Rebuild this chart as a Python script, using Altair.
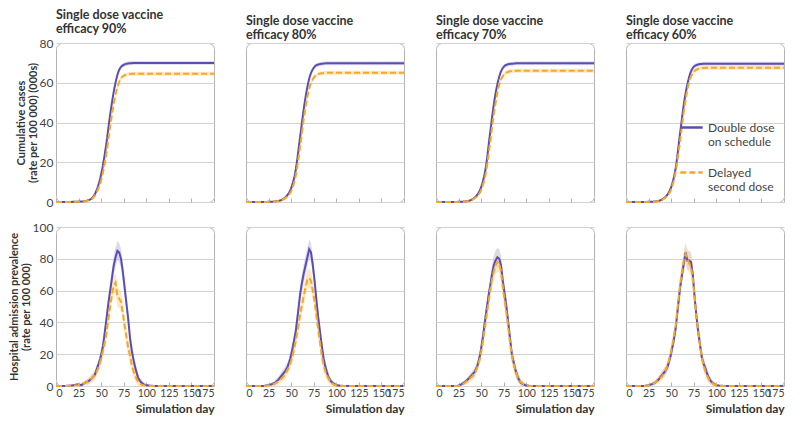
import altair as alt
import pandas as pd

efficacies = ["90%", "80%", "70%", "60%"]
series_names = ["Double dose on schedule", "Delayed second dose"]
x_ticks = [0, 25, 50, 75, 100, 125, 150, 175]

# ---- cumulative cases (000s per 100 000) ----
cum_days = [0, 10, 20, 25, 30, 35, 40, 45, 50, 55, 60, 65, 70, 75, 80, 85, 90, 100, 120, 175]
cum_spread = [0, 0, 0, 0.1, 0.2, 0.3, 0.5, 0.8, 1.0, 1.2, 1.3, 1.3, 1.2, 1.1, 1.0, 1.0, 1.0, 1.0, 1.0, 1.0]
cum_double = {
    "90%": [0, 0, 0.1, 0.2, 0.3, 0.8, 2.0, 6.0, 14, 27, 44, 58, 66.5, 69, 69.7, 69.9, 70, 70, 70, 70],
    "80%": [0, 0, 0, 0.1, 0.2, 0.5, 1.2, 3.0, 7.0, 16, 33, 50, 62, 67.5, 69.2, 69.6, 69.8, 69.8, 69.8, 69.8],
    "70%": [0, 0, 0, 0.1, 0.2, 0.5, 1.3, 3.2, 7.5, 17, 35, 52, 63, 68, 69.3, 69.6, 69.8, 69.8, 69.8, 69.8],
    "60%": [0, 0, 0, 0.1, 0.2, 0.5, 1.3, 3.2, 7.5, 17, 35, 52, 63, 68, 69.2, 69.5, 69.6, 69.6, 69.6, 69.6],
}
cum_delayed = {
    "90%": [0, 0, 0.1, 0.2, 0.3, 0.7, 1.6, 4.8, 11, 22, 38, 52, 60.5, 63.5, 64.3, 64.5, 64.5, 64.5, 64.5, 64.5],
    "80%": [0, 0, 0, 0.1, 0.2, 0.4, 1.0, 2.5, 5.5, 13, 28, 45, 57, 62.5, 64.3, 64.8, 65, 65, 65, 65],
    "70%": [0, 0, 0, 0.1, 0.2, 0.4, 1.1, 2.7, 6.0, 14, 30, 47, 59, 64, 65.5, 65.9, 66, 66, 66, 66],
    "60%": [0, 0, 0, 0.1, 0.2, 0.4, 1.1, 2.8, 6.3, 15, 31, 48.5, 60.5, 65.5, 67, 67.4, 67.5, 67.5, 67.5, 67.5],
}

# ---- hospital admission prevalence (per 100 000) ----
hosp_days = [0, 10, 20, 24, 28, 32, 36, 40, 43, 46, 49, 52, 55, 58, 60, 62, 64, 66, 68, 70,
             72, 74, 76, 78, 80, 82, 84, 86, 88, 91, 94, 97, 100, 104, 110, 120, 175]
hosp_spread = [0, 0, 0.5, 1, 1, 1.5, 2, 2.5, 3, 3, 3.5, 4, 4.5, 5, 5, 5.5, 6, 6, 6, 6,
               6, 6, 5.5, 5.5, 5, 5, 4.5, 4, 3.5, 3, 2, 1.5, 1, 0.5, 0, 0, 0]
hosp_double = {
    "90%": [0, 0, 0.5, 1, 0.5, 2, 3, 5, 7, 12, 17, 25, 38, 52, 60, 68, 76, 81, 85, 84,
            80, 72, 62, 52, 42, 30, 22, 16, 11, 5, 2.5, 1, 0.5, 0.2, 0, 0, 0],
    "80%": [0, 0, 0, 0.5, 1, 2, 4, 7, 9, 12, 17, 25, 34, 48, 58, 65, 71, 76, 81, 86,
            84, 76, 66, 54, 43, 34, 25, 17, 12, 6, 3, 1.5, 0.5, 0.2, 0, 0, 0],
    "70%": [0, 0, 0, 0, 1, 2.5, 4.5, 7, 9, 13, 20, 31, 44, 56, 63, 70, 76, 79, 81, 80,
            76, 66, 58, 50, 40, 30, 20, 15, 10, 5, 2, 1, 0.3, 0, 0, 0, 0],
    "60%": [0, 0, 0, 0.3, 1, 2, 4, 7, 9, 12, 18, 26, 36, 52, 62, 70, 77, 84, 79, 79,
            78, 70, 56, 44, 34, 26, 18, 14, 11, 6, 3, 1.5, 0.5, 0.2, 0, 0, 0],
}
hosp_delayed = {
    "90%": [0, 0, 0.3, 0.5, 1, 2, 3, 5, 7, 10, 15, 22, 30, 42, 50, 58, 63, 65, 56, 55,
            53, 46, 38, 31, 24, 19, 13, 9, 6, 2.5, 1, 0.5, 0.2, 0, 0, 0, 0],
    "80%": [0, 0, 0, 0.3, 0.5, 1.5, 3, 5, 7, 10, 14, 20, 28, 38, 45, 51, 57, 62, 67, 68,
            66, 60, 53, 44, 35, 27, 19, 13, 9, 5, 2.5, 1, 0.5, 0, 0, 0, 0],
    "70%": [0, 0, 0, 0, 0.5, 2, 4, 6, 8, 12, 18, 28, 40, 52, 60, 67, 72, 76, 78, 77,
            72, 62, 54, 46, 37, 27, 19, 14, 9, 5, 2.5, 1.2, 0.5, 0, 0, 0, 0],
    "60%": [0, 0, 0, 0.3, 1, 2, 4, 6, 9, 13, 19, 28, 38, 54, 64, 72, 79, 83, 80, 77,
            75, 67, 56, 43, 34, 25, 18, 13, 9, 5, 2.5, 1.2, 0.5, 0, 0, 0, 0],
}

PURPLE = "#5b4eb2"
ORANGE = "#f7a823"
BAND_PURPLE = "#c7c0ea"
BAND_ORANGE = "#fcd9a0"
FONT = "Lato"
W, H = 158, 159
LABEL_EXPR = "datum.label == 'Double dose on schedule' ? ['Double dose', 'on schedule'] : ['Delayed', 'second dose']"


def make_df(days, spread, double, delayed):
    rows = []
    for name, vals in zip(series_names, [double, delayed]):
        for d, v, s in zip(days, vals, spread):
            rows.append({"day": d, "value": v, "lo": max(v - s, 0), "hi": v + s, "series": name})
    return pd.DataFrame(rows)


def panel(df, i, top):
    first = i == 0
    if top:
        ydom, yvals = [0, 80], [0, 20, 40, 60, 80]
        ytitle = ["Cumulative cases", "(rate per 100 000) (000s)"]
    else:
        ydom, yvals = [0, 100], [0, 20, 40, 60, 80, 100]
        ytitle = ["Hospital admission prevalence", "(rate per 100 000)"]
    if first:
        yaxis = alt.Axis(values=yvals, title=ytitle, domain=False, ticks=False, labelPadding=3,
                         titlePadding=1, titleFontSize=11, titleLineHeight=11.5, titleFontWeight="bold",
                         titleFont=FONT, titleColor="#333", labelFontSize=12)
    else:
        yaxis = alt.Axis(values=yvals, title=None, labels=False, domain=False, ticks=False, minExtent=0)
    if top:
        xaxis = alt.Axis(values=x_ticks, labels=False, title=None, domain=False, ticks=True,
                         tickSize=4, offset=-4, grid=False)
    else:
        xaxis = alt.Axis(values=x_ticks, title="Simulation day", domain=False, ticks=True,
                         tickSize=4, offset=-4, grid=False, labelPadding=2, labelOverlap=False,
                         titleAnchor="end", titleAlign="right", titlePadding=5, titleFontSize=12,
                         titleFontWeight="bold", titleFont=FONT, titleColor="#333", labelFontSize=10.5)
    x = alt.X("day:Q", scale=alt.Scale(domain=[0, 175], nice=False), axis=xaxis)
    y = alt.Y("value:Q", scale=alt.Scale(domain=ydom, nice=False), axis=yaxis)
    if top and i == 3:
        legend = alt.Legend(title=None, orient="bottom-right", offset=9, labelExpr=LABEL_EXPR,
                            symbolType="stroke", symbolStrokeWidth=2.5, symbolSize=500,
                            labelFontSize=12, labelFont=FONT, labelColor="#444", rowPadding=12)
    else:
        legend = None
    interp = "monotone" if top else "linear"
    base = alt.Chart(df)
    bands = [
        base.transform_filter(alt.datum.series == name).mark_area(
            opacity=0.6, interpolate=interp, fill=col
        ).encode(
            x=x, y=alt.Y("lo:Q", scale=alt.Scale(domain=ydom, nice=False), axis=yaxis), y2="hi:Q",
        )
        for name, col in zip(series_names, [BAND_PURPLE, BAND_ORANGE])
    ]
    line = base.mark_line(strokeWidth=2, interpolate=interp).encode(
        x=x, y=y,
        color=alt.Color("series:N", scale=alt.Scale(domain=series_names, range=[PURPLE, ORANGE]), legend=legend),
        strokeDash=alt.StrokeDash("series:N", scale=alt.Scale(domain=series_names, range=[[1, 0], [6, 3]]), legend=legend),
    )
    ch = alt.layer(*bands, line).properties(width=W, height=H)
    if top:
        ch = ch.properties(title=alt.TitleParams(["Single dose vaccine", "efficacy " + efficacies[i]],
                                                 anchor="start", frame="group", fontSize=12.5,
                                                 fontWeight="bold", font=FONT, color="#333",
                                                 offset=2, lineHeight=13.5))
    return ch


panels = [panel(make_df(cum_days, cum_spread, cum_double[e], cum_delayed[e]), i, True)
          for i, e in enumerate(efficacies)]
panels += [panel(make_df(hosp_days, hosp_spread, hosp_double[e], hosp_delayed[e]), i, False)
           for i, e in enumerate(efficacies)]

chart = alt.concat(*panels, columns=4, spacing={"row": 25, "column": 32}, bounds="flush").properties(
    padding={"left": 0, "top": 0, "right": 2, "bottom": 0}
).resolve_scale(
    color="independent", strokeDash="independent"
).configure_view(
    stroke="#b3b3b3", strokeWidth=1, cornerRadius=6
).configure_axis(
    gridColor="#d2d2d2", gridWidth=1, labelFont=FONT, labelColor="#444", tickColor="#b3b3b3"
)

chart.save("out.html", embed_options={"renderer": "svg", "actions": False})
